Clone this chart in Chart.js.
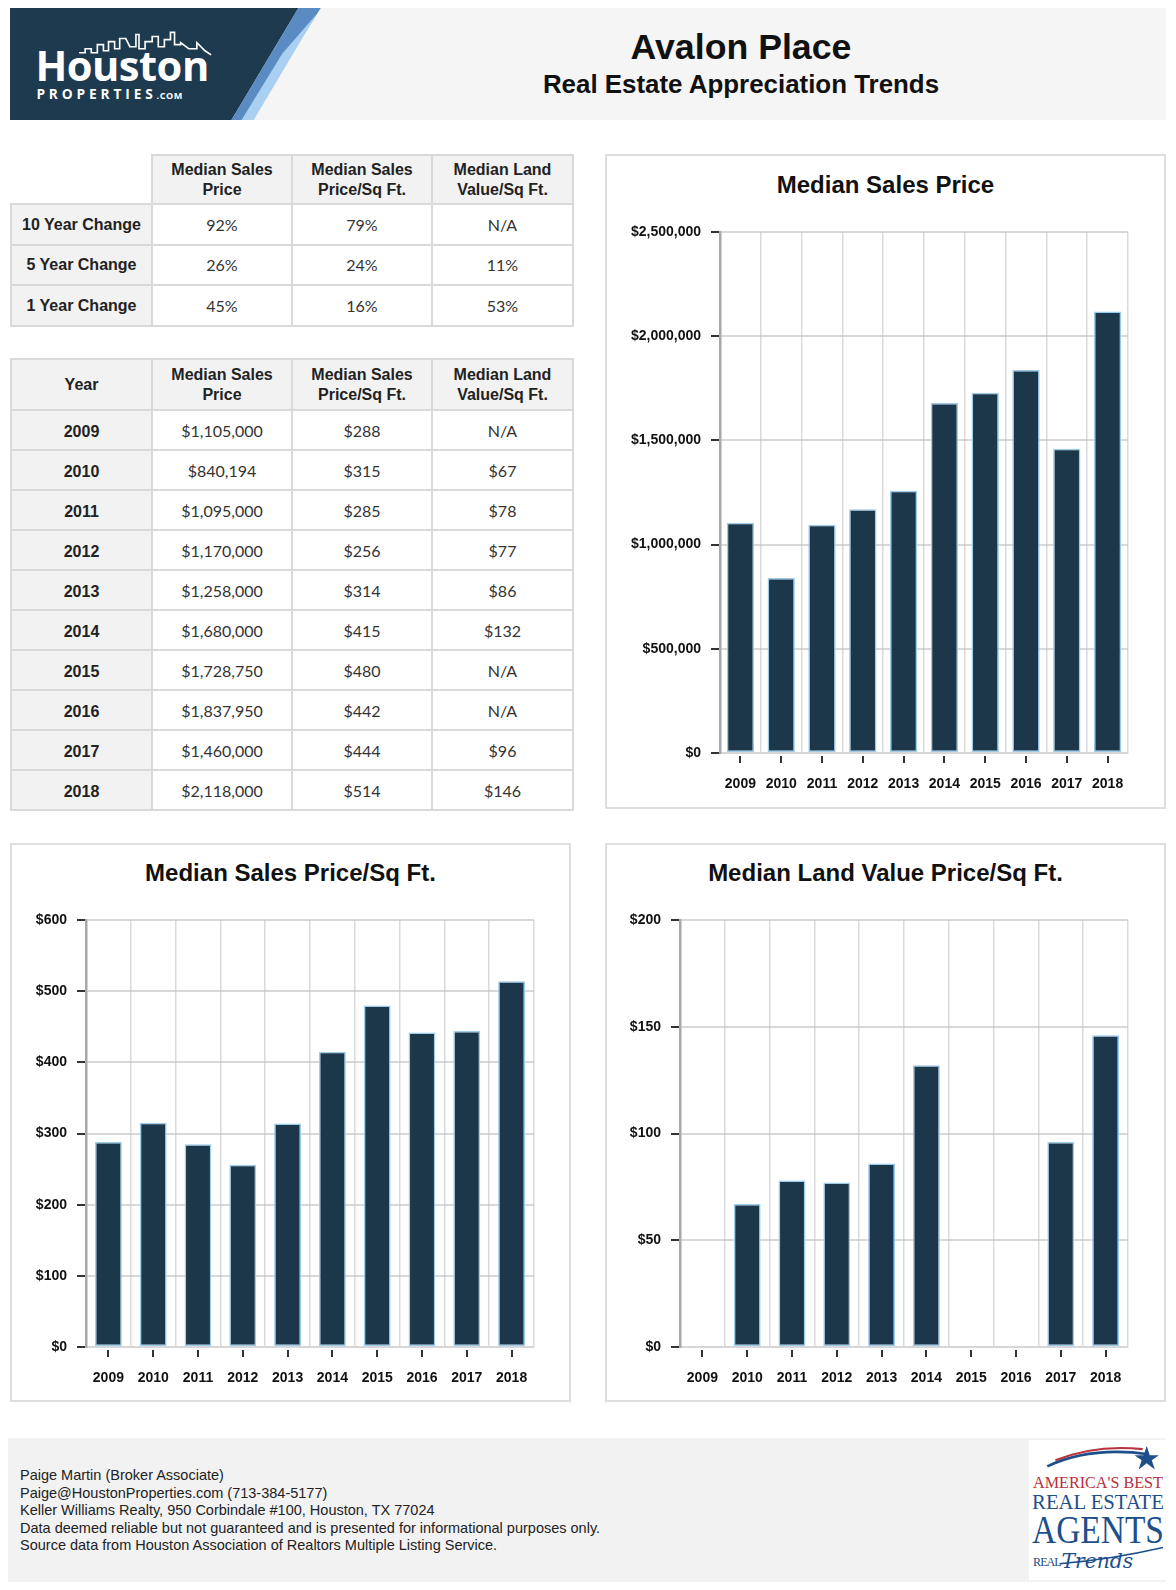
<!DOCTYPE html>
<html>
<head>
<meta charset="utf-8">
<script src="https://cdn.jsdelivr.net/npm/chart.js@4.4.1/dist/chart.umd.min.js"></script>
<style>
  html, body { margin: 0; padding: 0; width: 1176px; height: 1590px; overflow: hidden; background: #fff; }
  #page { position: relative; width: 1176px; height: 1590px; overflow: hidden; font-family: "Liberation Sans", Arial, sans-serif; }
  .abs { position: absolute; }
  .band { background: #f5f5f5; }
  table.grid { position: absolute; border-collapse: collapse; table-layout: fixed; }
  table.grid td { border: 2px solid #d9d9d9; text-align: center; vertical-align: middle; padding: 0;
                  font-family: "Lato", sans-serif; font-size: 16px; color: #333; background: #fff; }
  table.grid td.h { background: #f2f2f2; font-family: "Liberation Sans", Arial, sans-serif; font-weight: bold; color: #222; line-height: 19.5px; font-size: 16px; }
  table.grid td.y { padding-top: 3px; }
  table.grid td.blank { border-top: hidden; border-left: hidden; background: #fff; }
  .panel { position: absolute; border: 2px solid #dedede; box-sizing: border-box; background: #fff; }
  .ptitle { position: absolute; left: 0; width: 100%; text-align: center; font-weight: bold; font-size: 24px; color: #111; }
  canvas { position: absolute; }
  #foot { left: 8px; top: 1438px; width: 1158px; height: 144px; background: #f2f2f2; }
  #foot .txt { position: absolute; left: 12px; top: 29px; font-size: 14.5px; line-height: 17.5px; color: #222; white-space: nowrap; }
</style>
</head>
<body>
<div id="page">

  <!-- header band -->
  <div class="abs band" style="left:10px;top:8px;width:1156px;height:112px;"></div>
  <svg class="abs" style="left:10px;top:8px;" width="325" height="112" viewBox="0 0 320 110" preserveAspectRatio="none">
    <polygon points="0,0 284,0 218,110 0,110" fill="#1e3a4f"/>
    <polygon points="284,0 306,0 236,110 218,110" fill="#5a8bc3"/>
    <polygon points="302,6 240,110 228,110 268,45" fill="#a9d0f0"/>
    <polyline points="68,44 74,44 74,40 80,40 80,44 86,44 86,36 92,36 92,42 97,42 97,33 103,33 103,40 108,40 108,30 114,30 118,38 124,38 124,26 127,26 127,40 133,40 133,33 140,33 140,28 146,28 146,38 152,38 152,31 158,31 158,24 162,24 162,36 168,36 168,34 176,40 184,40 184,34 192,42 198,46"
              fill="none" stroke="#ffffff" stroke-width="1.6"/>
    <text x="25" y="72" fill="#ffffff" font-family="Open Sans, sans-serif" font-weight="bold" font-size="41" letter-spacing="-0.5">Houston</text>
    <text x="26" y="89" fill="#ffffff" font-family="Open Sans, sans-serif" font-weight="bold" font-size="13.5" letter-spacing="3.8">PROPERTIES<tspan font-size="9" letter-spacing="0.5">.COM</tspan></text>
  </svg>
  <div class="abs" style="left:441px;top:27px;width:600px;text-align:center;font-weight:bold;font-size:35.7px;color:#111;">Avalon Place</div>
  <div class="abs" style="left:441px;top:69.5px;width:600px;text-align:center;font-weight:bold;font-size:25.9px;color:#111;">Real Estate Appreciation Trends</div>

  <!-- tables -->
  <table class="grid" id="changeTable" style="left:10px;top:154px;width:562px;"></table>
  <table class="grid" id="yearTable" style="left:10px;top:358px;width:562px;"></table>

  <!-- chart panels -->
  <div class="panel" style="left:605px;top:154px;width:561px;height:655px;">
    <div class="ptitle" style="top:15px;">Median Sales Price</div>
  </div>
  <canvas id="chartPrice" width="557" height="606" style="left:607px;top:200px;"></canvas>

  <div class="panel" style="left:10px;top:843px;width:561px;height:559px;">
    <div class="ptitle" style="top:14px;">Median Sales Price/Sq Ft.</div>
  </div>
  <canvas id="chartPsf" width="557" height="510" style="left:12px;top:890px;"></canvas>

  <div class="panel" style="left:605px;top:843px;width:561px;height:559px;">
    <div class="ptitle" style="top:14px;">Median Land Value Price/Sq Ft.</div>
  </div>
  <canvas id="chartLand" width="557" height="510" style="left:607px;top:890px;"></canvas>

  <!-- footer -->
  <div class="abs" id="foot">
    <div class="txt">
      Paige Martin (Broker Associate)<br>
      Paige@HoustonProperties.com (713-384-5177)<br>
      Keller Williams Realty, 950 Corbindale #100, Houston, TX 77024<br>
      Data deemed reliable but not guaranteed and is presented for informational purposes only.<br>
      Source data from Houston Association of Realtors Multiple Listing Service.
    </div>
  </div>
  <div class="abs" style="left:1029px;top:1440px;width:137px;height:140px;background:#fff;"></div>
  <svg class="abs" style="left:1029px;top:1440px;" width="137" height="140" viewBox="0 0 135 138">
    <path d="M18,26 Q60,6 118,14" fill="none" stroke="#1d4f8a" stroke-width="2.5"/>
    <path d="M26,20 Q66,4 112,9" fill="none" stroke="#b8323f" stroke-width="2"/>
    <polygon points="116,6 119,15 128,15 121,20 124,29 116,23 108,29 111,20 104,15 113,15" fill="#1d4f8a"/>
    <text x="68" y="47" text-anchor="middle" fill="#b8323f" font-family="Liberation Serif, serif" font-size="15.5" textLength="128" lengthAdjust="spacingAndGlyphs">AMERICA'S BEST</text>
    <text x="68" y="68" text-anchor="middle" fill="#1d4f8a" font-family="Liberation Serif, serif" font-size="21" textLength="130" lengthAdjust="spacingAndGlyphs">REAL ESTATE</text>
    <text x="68" y="102" text-anchor="middle" fill="#1d4f8a" font-family="Liberation Serif, serif" font-size="39" textLength="130" lengthAdjust="spacingAndGlyphs">AGENTS</text>
    <text x="4" y="124" fill="#1d4f8a" font-family="Liberation Serif, serif" font-size="12" letter-spacing="-1">REAL</text>
    <text x="32" y="126" fill="#1d4f8a" font-family="DejaVu Serif, serif" font-style="italic" font-size="20">Trends</text>
    <path d="M30,122 Q80,118 132,106" fill="none" stroke="#1d4f8a" stroke-width="1.5"/>
  </svg>
</div>

<script>
// --- Data ---
const years = ['2009', '2010', '2011', '2012', '2013', '2014', '2015', '2016', '2017', '2018'];
const salesPrice = [1105000, 840194, 1095000, 1170000, 1258000, 1680000, 1728750, 1837950, 1460000, 2118000];
const pricePerSqFt = [288, 315, 285, 256, 314, 415, 480, 442, 444, 514];
const landPerSqFt = [null, 67, 78, 77, 86, 132, null, null, 96, 146];

const changeLabels = ['10 Year Change', '5 Year Change', '1 Year Change'];
const changePrice = ['92%', '26%', '45%'];
const changePsf = ['79%', '24%', '16%'];
const changeLand = ['N/A', '11%', '53%'];

const priceTicks = { max: 2500000, step: 500000 };
const psfTicks = { max: 600, step: 100 };
const landTicks = { max: 200, step: 50 };

// --- Tables ---
const colHeads = ['Median Sales<br>Price', 'Median Sales<br>Price/Sq Ft.', 'Median Land<br>Value/Sq Ft.'];
const money = v => v === null ? 'N/A' : '$' + v.toLocaleString('en-US');
const cols = '<colgroup><col style="width:141px"><col style="width:140px"><col style="width:140px"><col style="width:141px"></colgroup>';

const buildChangeTable = () => {
    let html = cols;
    html += '<tr style="height:49px"><td class="blank"></td>' + colHeads.map(h => `<td class="h">${h}</td>`).join('') + '</tr>';
    changeLabels.forEach((label, i) => {
        html += `<tr style="height:40.5px"><td class="h">${label}</td><td>${changePrice[i]}</td><td>${changePsf[i]}</td><td>${changeLand[i]}</td></tr>`;
    });
    document.getElementById('changeTable').innerHTML = html;
};

const buildYearTable = () => {
    let html = cols;
    html += '<tr style="height:51px"><td class="h">Year</td>' + colHeads.map(h => `<td class="h">${h}</td>`).join('') + '</tr>';
    years.forEach((y, i) => {
        html += `<tr style="height:40px"><td class="h y">${y}</td><td>${money(salesPrice[i])}</td><td>${money(pricePerSqFt[i])}</td><td>${money(landPerSqFt[i])}</td></tr>`;
    });
    document.getElementById('yearTable').innerHTML = html;
};

// --- Charts ---
// small tick marks under the x axis, at the centre of each year
const centreTicks = {
    id: 'centreTicks',
    afterDraw(chart) {
        const x = chart.scales.x;
        const ctx = chart.ctx;
        const bottom = chart.chartArea.bottom;
        ctx.save();
        ctx.strokeStyle = '#333';
        ctx.lineWidth = 2;
        x.ticks.forEach((t, i) => {
            const px = Math.round(x.getPixelForTick(i));
            ctx.beginPath();
            ctx.moveTo(px, bottom + 3);
            ctx.lineTo(px, bottom + 10);
            ctx.stroke();
        });
        ctx.restore();
    }
};

const makeBarChart = (id, values, ticks, box, barPct) => {
    const axisFont = { family: '"Liberation Sans", Arial, sans-serif', size: 14, weight: 'bold' };
    return new Chart(document.getElementById(id), {
        type: 'bar',
        data: {
            labels: years,
            datasets: [{
                data: values,
                backgroundColor: '#1c3749',
                borderColor: '#9ccbec',
                borderWidth: 1.5,
                borderSkipped: false,
                categoryPercentage: 1,
                barPercentage: barPct
            }]
        },
        options: {
            responsive: false,
            maintainAspectRatio: false,
            animation: false,
            layout: { padding: { top: box.top, right: box.right, left: 0, bottom: 0 } },
            plugins: { legend: { display: false }, tooltip: { enabled: false } },
            scales: {
                x: {
                    afterFit: s => { s.height = box.xh; },
                    grid: { offset: true, color: '#dadada', lineWidth: 1.5, drawTicks: false },
                    border: { color: '#d6d6d6', width: 1.5 },
                    ticks: { color: '#111', font: axisFont, padding: 23, maxRotation: 0 }
                },
                y: {
                    z: 1,
                    min: 0,
                    max: ticks.max,
                    afterFit: s => { s.width = box.yw; },
                    grid: { color: 'rgba(190,190,190,0.6)', lineWidth: 2, tickColor: '#333', tickLength: 9 },
                    border: { color: '#a8a8a8', width: 2.5 },
                    ticks: {
                        stepSize: ticks.step,
                        color: '#111',
                        font: axisFont,
                        padding: 10,
                        callback: v => '$' + Number(v).toLocaleString('en-US')
                    }
                }
            }
        },
        plugins: [centreTicks]
    });
};

buildChangeTable();
buildYearTable();
makeBarChart('chartPrice', salesPrice, priceTicks, { top: 32, right: 36, xh: 53, yw: 113 }, 0.67);
makeBarChart('chartPsf', pricePerSqFt, psfTicks, { top: 30, right: 35, xh: 53, yw: 74 }, 0.6);
makeBarChart('chartLand', landPerSqFt, landTicks, { top: 30, right: 36, xh: 53, yw: 73 }, 0.6);
</script>
</body>
</html>
